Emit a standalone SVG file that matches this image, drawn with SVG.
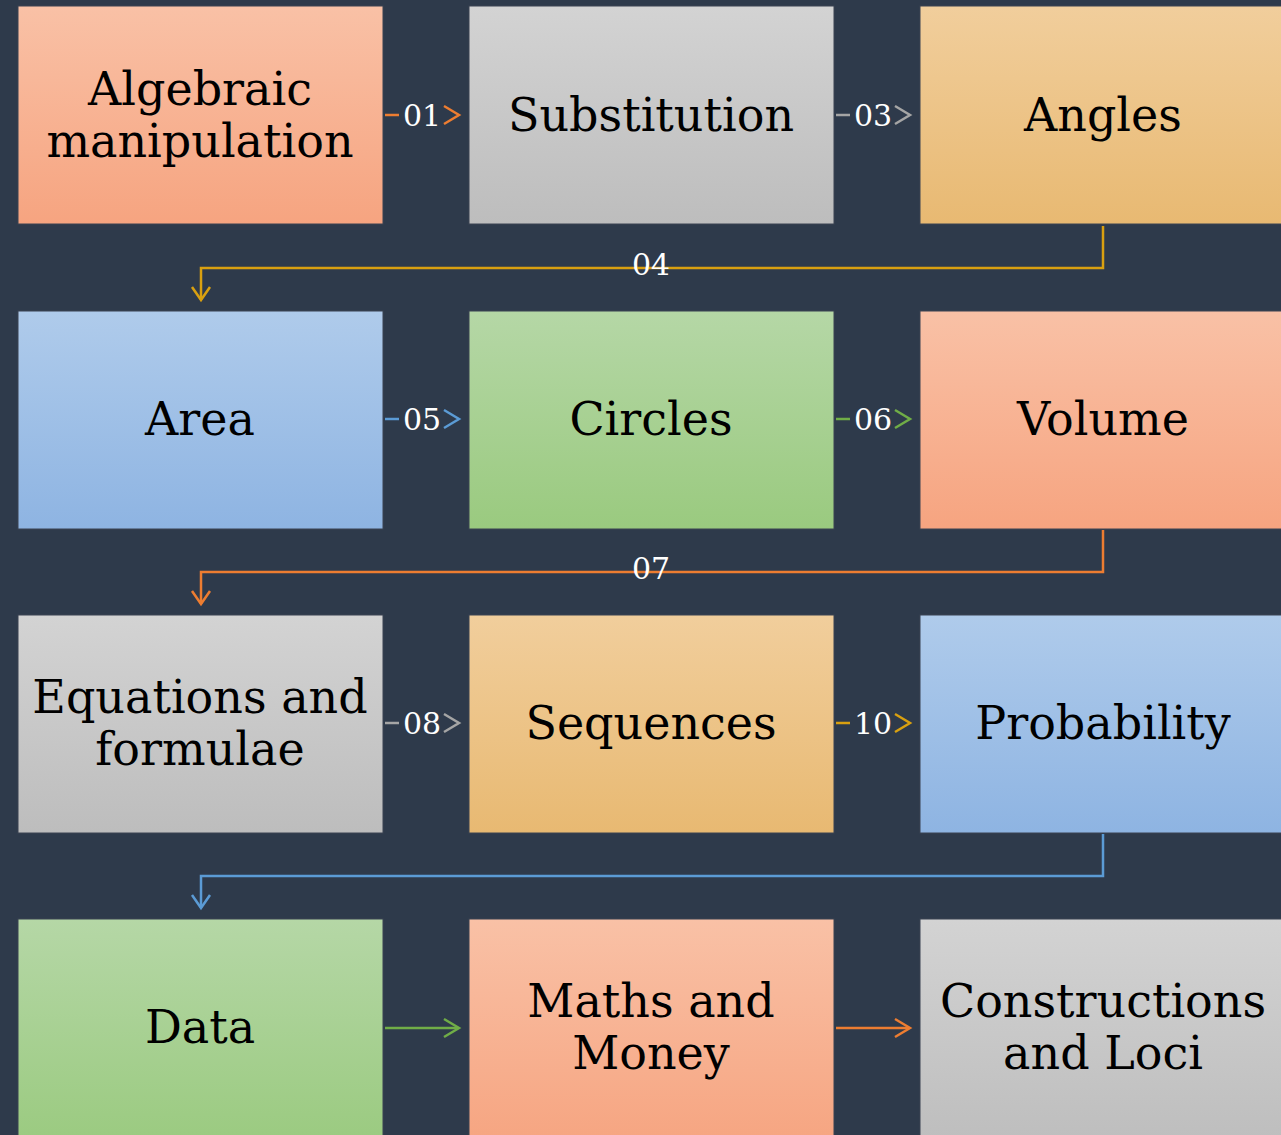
<svg xmlns="http://www.w3.org/2000/svg" width="1281" height="1135" viewBox="0 0 1281 1135">
<defs>
<linearGradient id="gO" x1="0" y1="0" x2="0" y2="1"><stop offset="0" stop-color="#F9C1A6"/><stop offset="1" stop-color="#F6A480"/></linearGradient>
<linearGradient id="gG" x1="0" y1="0" x2="0" y2="1"><stop offset="0" stop-color="#D3D3D3"/><stop offset="1" stop-color="#BDBDBD"/></linearGradient>
<linearGradient id="gT" x1="0" y1="0" x2="0" y2="1"><stop offset="0" stop-color="#F1CE9C"/><stop offset="1" stop-color="#E8B972"/></linearGradient>
<linearGradient id="gB" x1="0" y1="0" x2="0" y2="1"><stop offset="0" stop-color="#AFCBEB"/><stop offset="1" stop-color="#8EB4E2"/></linearGradient>
<linearGradient id="gN" x1="0" y1="0" x2="0" y2="1"><stop offset="0" stop-color="#B5D7A6"/><stop offset="1" stop-color="#9ACA7F"/></linearGradient>
</defs>
<style>
.box{stroke:#3a4353;stroke-width:1}
.t{font-family:"DejaVu Serif","Liberation Serif",serif;font-size:46px;fill:#000;text-anchor:middle}
.l{font-family:"DejaVu Serif","Liberation Serif",serif;font-size:30px;fill:#fff;text-anchor:middle}
.c{fill:none;stroke-width:2.5}
.h{fill:none;stroke-width:2.5}
</style>
<rect width="1281" height="1135" fill="#2E3A4B"/>
<g id="connectors">
<line class="c" x1="385" y1="115" x2="399" y2="115" stroke="#ED7D31"/>
<path class="h" d="M444,106 L459,115 L444,124" stroke="#ED7D31"/>
<text class="l" x="422" y="126">01</text>
<line class="c" x1="836" y1="115" x2="850" y2="115" stroke="#A5A5A5"/>
<path class="h" d="M895,106 L910,115 L895,124" stroke="#A5A5A5"/>
<text class="l" x="873" y="126">03</text>
<path class="c" d="M1103,226 L1103,268 L201,268 L201,300" stroke="#D9A010"/>
<path class="h" d="M192,287 L201,300 L210,287" stroke="#D9A010"/>
<text class="l" x="651" y="275">04</text>
<line class="c" x1="385" y1="419" x2="399" y2="419" stroke="#5B9BD5"/>
<path class="h" d="M444,410 L459,419 L444,428" stroke="#5B9BD5"/>
<text class="l" x="422" y="430">05</text>
<line class="c" x1="836" y1="419" x2="850" y2="419" stroke="#70AD47"/>
<path class="h" d="M895,410 L910,419 L895,428" stroke="#70AD47"/>
<text class="l" x="873" y="430">06</text>
<path class="c" d="M1103,530 L1103,572 L201,572 L201,604" stroke="#ED7D31"/>
<path class="h" d="M192,591 L201,604 L210,591" stroke="#ED7D31"/>
<text class="l" x="651" y="579">07</text>
<line class="c" x1="385" y1="723" x2="399" y2="723" stroke="#A5A5A5"/>
<path class="h" d="M444,714 L459,723 L444,732" stroke="#A5A5A5"/>
<text class="l" x="422" y="734">08</text>
<line class="c" x1="836" y1="723" x2="850" y2="723" stroke="#D9A010"/>
<path class="h" d="M895,714 L910,723 L895,732" stroke="#D9A010"/>
<text class="l" x="873" y="734">10</text>
<path class="c" d="M1103,834 L1103,876 L201,876 L201,908" stroke="#5B9BD5"/>
<path class="h" d="M192,895 L201,908 L210,895" stroke="#5B9BD5"/>
<line class="c" x1="385" y1="1028" x2="458" y2="1028" stroke="#70AD47"/>
<path class="h" d="M444,1019 L459,1028 L444,1037" stroke="#70AD47"/>
<line class="c" x1="836" y1="1028" x2="909" y2="1028" stroke="#ED7D31"/>
<path class="h" d="M895,1019 L910,1028 L895,1037" stroke="#ED7D31"/>
</g>
<g id="n1"><rect class="box" x="18" y="6" width="365" height="218" fill="url(#gO)"/><text class="t" x="200" y="105">Algebraic</text><text class="t" x="200" y="157">manipulation</text></g>
<g id="n2"><rect class="box" x="469" y="6" width="365" height="218" fill="url(#gG)"/><text class="t" x="651" y="131">Substitution</text></g>
<g id="n3"><rect class="box" x="920" y="6" width="370" height="218" fill="url(#gT)"/><text class="t" x="1103" y="131">Angles</text></g>
<g id="n4"><rect class="box" x="18" y="311" width="365" height="218" fill="url(#gB)"/><text class="t" x="200" y="435">Area</text></g>
<g id="n5"><rect class="box" x="469" y="311" width="365" height="218" fill="url(#gN)"/><text class="t" x="651" y="435">Circles</text></g>
<g id="n6"><rect class="box" x="920" y="311" width="370" height="218" fill="url(#gO)"/><text class="t" x="1103" y="435">Volume</text></g>
<g id="n7"><rect class="box" x="18" y="615" width="365" height="218" fill="url(#gG)"/><text class="t" x="200" y="713">Equations and</text><text class="t" x="200" y="765">formulae</text></g>
<g id="n8"><rect class="box" x="469" y="615" width="365" height="218" fill="url(#gT)"/><text class="t" x="651" y="739">Sequences</text></g>
<g id="n9"><rect class="box" x="920" y="615" width="370" height="218" fill="url(#gB)"/><text class="t" x="1103" y="739">Probability</text></g>
<g id="n10"><rect class="box" x="18" y="919" width="365" height="230" fill="url(#gN)"/><text class="t" x="200" y="1043">Data</text></g>
<g id="n11"><rect class="box" x="469" y="919" width="365" height="230" fill="url(#gO)"/><text class="t" x="651" y="1017">Maths and</text><text class="t" x="651" y="1069">Money</text></g>
<g id="n12"><rect class="box" x="920" y="919" width="370" height="230" fill="url(#gG)"/><text class="t" x="1103" y="1017">Constructions</text><text class="t" x="1103" y="1069">and Loci</text></g>
</svg>
